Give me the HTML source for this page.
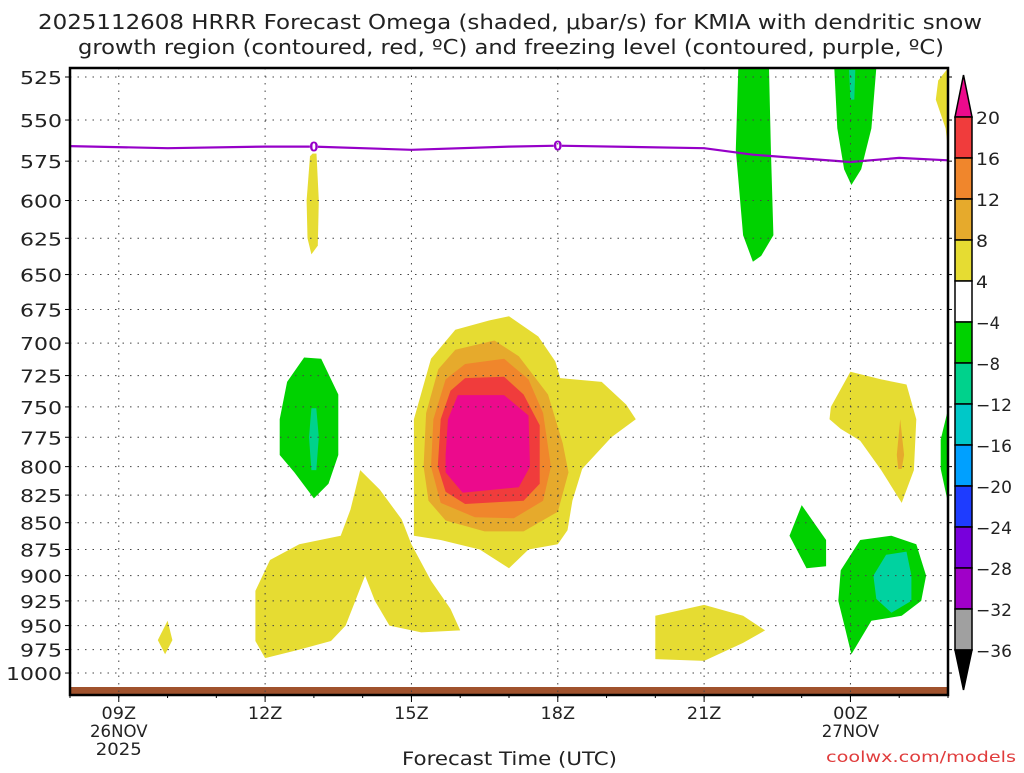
<!DOCTYPE html>
<html><head><meta charset="utf-8"><style>
body{margin:0;background:#fff;}
svg text{font-family:"DejaVu Sans","Liberation Sans",sans-serif;}
</style></head><body>
<svg id="c" width="1024" height="768" xmlns="http://www.w3.org/2000/svg">
<rect width="1024" height="768" fill="#fff"/>
<text x="38" y="29" textLength="944" lengthAdjust="spacingAndGlyphs" font-size="20" fill="#222">2025112608 HRRR Forecast Omega (shaded, μbar/s) for KMIA with dendritic snow</text>
<text x="78" y="54" textLength="866" lengthAdjust="spacingAndGlyphs" font-size="20" fill="#222">growth region (contoured, red, ºC) and freezing level (contoured, purple, ºC)</text>
<g id="fills"></g><g id="grid"></g><g id="axes"></g><g id="cbar"></g>
<text x="402" y="765" textLength="215" lengthAdjust="spacingAndGlyphs" font-size="19" fill="#222">Forecast Time (UTC)</text>
<text x="826" y="762" textLength="190" lengthAdjust="spacingAndGlyphs" font-size="15" fill="#e03c3c">coolwx.com/models</text>
</svg>
<script>
const pTicks=[525,550,575,600,625,650,675,700,725,750,775,800,825,850,875,900,925,950,975,1000];
const xTickHours=[9,12,15,18,21,24];
const xTickLabels=[["09Z","26NOV","2025"],["12Z"],["15Z"],["18Z"],["21Z"],["00Z","27NOV"]];
const cbLevels=["20","16","12","8","4","-4","-8","-12","-16","-20","-24","-28","-32","-36"];
const cbColors=["#f03c3c","#f0862c","#e6aa2c","#e6dc32","#ffffff","#00d200","#00d28c","#00c8c8","#00a0ff","#1e3cff","#7800dc","#a000c8","#a0a0a0"];
const freezeHours=[8,10,12,13,15,17,18,21,22,24,25,26];
const freezePres=[565.7,567,566,566,568,566,565.5,567,571,575.5,573,574.5];
const yellowLow=[[11.8,915],[12.1,885],[12.7,870],[13.55,862],[13.75,838],[13.95,803],[14.35,820],[14.8,847],[15,870],[15.4,905],[15.8,933],[16,955],[15.2,957],[14.55,950],[14.25,925],[14.05,900],[13.85,925],[13.65,950],[13.35,966],[12.7,975],[12,984],[11.8,966]];
const yellowBig=[[15.05,862],[15.05,760],[15.4,712],[15.9,690],[16.6,683],[17,680],[17.6,695],[17.95,714],[18.05,727],[18.9,730],[19.4,748],[19.6,760],[19.1,775],[18.5,802],[18.3,830],[18.2,857],[18,870],[17.4,875],[17,893],[16.4,875],[15.6,866]];
const goldBig=[[15.25,800],[15.3,755],[15.55,720],[15.9,705],[16.7,698],[17.2,710],[17.8,740],[18.1,780],[18.22,805],[18,840],[17.3,858],[16.5,858],[15.7,848],[15.35,830]];
const orangeBig=[[15.4,800],[15.45,760],[15.7,728],[16.1,716],[16.9,712],[17.4,728],[17.7,755],[17.86,800],[17.7,830],[17.1,846],[16.3,845],[15.6,832]];
const redBig=[[15.54,800],[15.6,760],[15.8,737],[16.1,727],[16.9,726],[17.3,740],[17.63,765],[17.63,815],[17.3,830],[16.1,833],[15.7,822]];
const magBig=[[15.7,790],[15.75,760],[15.95,740.5],[16.9,740.5],[17.4,757],[17.43,800],[17.2,818],[16.05,823],[15.7,805]];
const greenLeft=[[12.3,760],[12.45,730],[12.8,711],[13.15,712],[13.5,740],[13.5,790],[13.3,815],[13,828],[12.6,805],[12.3,790]];
const tealLeft=[[12.9,775],[12.95,751],[13.05,751],[13.1,775],[13.05,803],[12.95,803]];
const yellow13=[[12.85,600],[12.92,572],[13.05,568],[13.1,600],[13.08,630],[12.95,636],[12.87,625]];
const yellow10=[[9.8,965],[10,945],[10.1,965],[9.95,980]];
const yellow21=[[20,940],[21,929],[21.8,940],[22.25,955],[21.8,968],[21,987],[20,985]];
const greenTop22=[[21.7,520],[22.33,520],[22.37,568],[22.42,623],[22.17,637],[22,641],[21.8,623],[21.65,568]];
const greenTop00=[[23.67,520],[24.53,520],[24.43,555],[24.22,580],[24.02,590],[23.87,580],[23.73,555]];
const tealTop00=[[23.97,521],[24.1,521],[24.08,538],[24,538]];
const yellowTR=[[26,520],[25.8,527],[25.75,538],[25.95,555],[26,568]];
const greenRE=[[26,752],[25.85,777],[25.85,802],[26,832]];
const yellowR=[[23.6,750],[24,722],[24.63,728],[25.15,732],[25.35,760],[25.3,803],[25.05,832],[24.63,803],[24.2,778],[23.8,768],[23.57,760]];
const goldR=[[24.95,790],[25.02,760],[25.1,790],[25.05,802],[24.98,802]];
const greenDiamond=[[23,834],[22.75,862],[23.1,893],[23.5,891],[23.5,866]];
const greenBR=[[23.8,895],[24.2,866],[24.84,862],[25.35,870],[25.55,900],[25.45,925],[25.05,940],[24.43,945],[24.02,980],[23.9,955],[23.75,925]];
const tealBR=[[24.47,900],[24.73,880],[25.15,877],[25.25,900],[25.25,925],[24.84,937],[24.53,923]];
const regions=[["#e6dc32",yellowBig,"yellow-omega-region"],["#e6aa2c",goldBig,"gold-omega-region"],["#f0862c",orangeBig,"orange-omega-region"],["#f03c3c",redBig,"red-omega-region"],["#ec0a8c",magBig,"magenta-omega-region"],
["#e6dc32",yellowLow,"yellow-low-region"],["#00d200",greenLeft,"green-left-region"],["#00d28c",tealLeft,"teal-left-region"],["#e6dc32",yellow13,"yellow-13z-region"],["#e6dc32",yellow10,"yellow-10z-region"],["#e6dc32",yellow21,"yellow-21z-region"],
["#00d200",greenTop22,"green-top-22z-region"],["#00d200",greenTop00,"green-top-00z-region"],["#00d28c",tealTop00,"teal-top-00z-region"],["#e6dc32",yellowTR,"yellow-top-right-region"],["#00d200",greenRE,"green-right-edge-region"],
["#e6dc32",yellowR,"yellow-right-region"],["#e6aa2c",goldR,"gold-right-region"],["#00d200",greenDiamond,"green-small-region"],["#00d200",greenBR,"green-bottom-right-region"],["#00d2a0",tealBR,"teal-bottom-right-region"]];

const X0=70,X1=948,Y0=68,Y1=695,H0=8,H1=26;
const xs=h=>X0+(h-H0)*(X1-X0)/(H1-H0);
const ys=p=>77+925*Math.log(p/525);
const NS="http://www.w3.org/2000/svg";
function mk(tag,attrs,parent){const e=document.createElementNS(NS,tag);for(const k in attrs)e.setAttribute(k,attrs[k]);parent.appendChild(e);return e;}
const svg=document.getElementById('c');
const defs=mk('defs',{},svg);const cp=mk('clipPath',{id:'pc'},defs);mk('rect',{x:X0,y:Y0,width:X1-X0,height:Y1-Y0},cp);
const fills=document.getElementById('fills');fills.setAttribute('clip-path','url(#pc)');
for(const [col,pts,nm] of regions){
 const e=mk('polygon',{points:pts.map(q=>xs(q[0]).toFixed(1)+','+ys(q[1]).toFixed(1)).join(' '),fill:col,'stroke-linejoin':'round'},fills);
 
 
}
const ground=mk('rect',{x:X0,y:687,width:X1-X0,height:8,fill:'#a0522d'},fills);


const grid=document.getElementById('grid'),axes=document.getElementById('axes');
for(const p of pTicks){const y=ys(p);
 const g=mk('line',{x1:X0,x2:X1,y1:y,y2:y,stroke:'#444','stroke-width':1,'stroke-dasharray':'1.5,6'},grid);
 
 
 mk('line',{x1:X0-5,x2:X0,y1:y,y2:y,stroke:'#000'},axes);
 mk('line',{x1:X1,x2:X1+4,y1:y,y2:y,stroke:'#000'},axes);
 const s=String(p);
 const t=mk('text',{x:62,y:y+7,'text-anchor':'end','font-size':18,fill:'#222',textLength:s.length*14,lengthAdjust:'spacingAndGlyphs'},axes);t.textContent=s;
 
 
}
xTickHours.forEach((h,i)=>{const x=xs(h);
 const g=mk('line',{x1:x,x2:x,y1:Y0,y2:Y1,stroke:'#444','stroke-width':1,'stroke-dasharray':'1.5,6'},grid);
 
 
 mk('line',{x1:x,x2:x,y1:Y1,y2:Y1+7,stroke:'#000'},axes);
 xTickLabels[i].forEach((s,j)=>{const w=s.length*11.5;const t=mk('text',{x:x-w/2,y:719+j*18,'font-size':17,fill:'#222',textLength:w,lengthAdjust:'spacingAndGlyphs'},axes);t.textContent=s;
  
  });
});
for(let h=H0;h<=H1;h++){mk('line',{x1:xs(h),x2:xs(h),y1:Y1,y2:Y1+3,stroke:'#000'},axes);}
const fl=mk('polyline',{points:freezeHours.map((h,i)=>xs(h).toFixed(1)+','+ys(freezePres[i]).toFixed(1)).join(' '),fill:'none',stroke:'#9600c8','stroke-width':2.2,'stroke-linejoin':'round'},fills);


[13,18].forEach(h=>{const x=xs(h);let k=0;for(let i=0;i<freezeHours.length-1;i++)if(h>=freezeHours[i]&&h<=freezeHours[i+1])k=i;
 const f=(h-freezeHours[k])/(freezeHours[k+1]-freezeHours[k]);const y=ys(freezePres[k]+f*(freezePres[k+1]-freezePres[k]));
 mk('rect',{x:x-4,y:y-7,width:8,height:14,fill:'#fff'},fills);
 const t=mk('text',{x:x,y:y+5,'text-anchor':'middle','font-size':13,'font-weight':'bold',fill:'#9600c8'},fills);t.textContent='0';
 
 });
const fr=mk('rect',{x:X0,y:Y0,width:X1-X0,height:Y1-Y0,fill:'none',stroke:'#000','stroke-width':2.5},axes);


const cb=document.getElementById('cbar');const CX=955,CW=17,CT=117,CS=41;
const tt=mk('polygon',{points:`${CX},${CT} ${CX+CW},${CT} ${CX+CW/2},75`,fill:'#ec0a8c',stroke:'#000','stroke-width':1.5},cb);


cbColors.forEach((c,i)=>{const r=mk('rect',{x:CX,y:CT+i*CS,width:CW,height:CS,fill:c,stroke:'#000','stroke-width':1.5},cb);
 
 });
const bt=mk('polygon',{points:`${CX},${CT+13*CS} ${CX+CW},${CT+13*CS} ${CX+CW/2},690`,fill:'#000',stroke:'#000','stroke-width':1.5},cb);


cbLevels.forEach((s,i)=>{const lab=s.replace('-','−');const w=lab.length*12;const t=mk('text',{x:CX+CW+4,y:CT+i*CS+7,'font-size':17,fill:'#222',textLength:w,lengthAdjust:'spacingAndGlyphs'},cb);t.textContent=lab;
 
 });
</script>
</body></html>
